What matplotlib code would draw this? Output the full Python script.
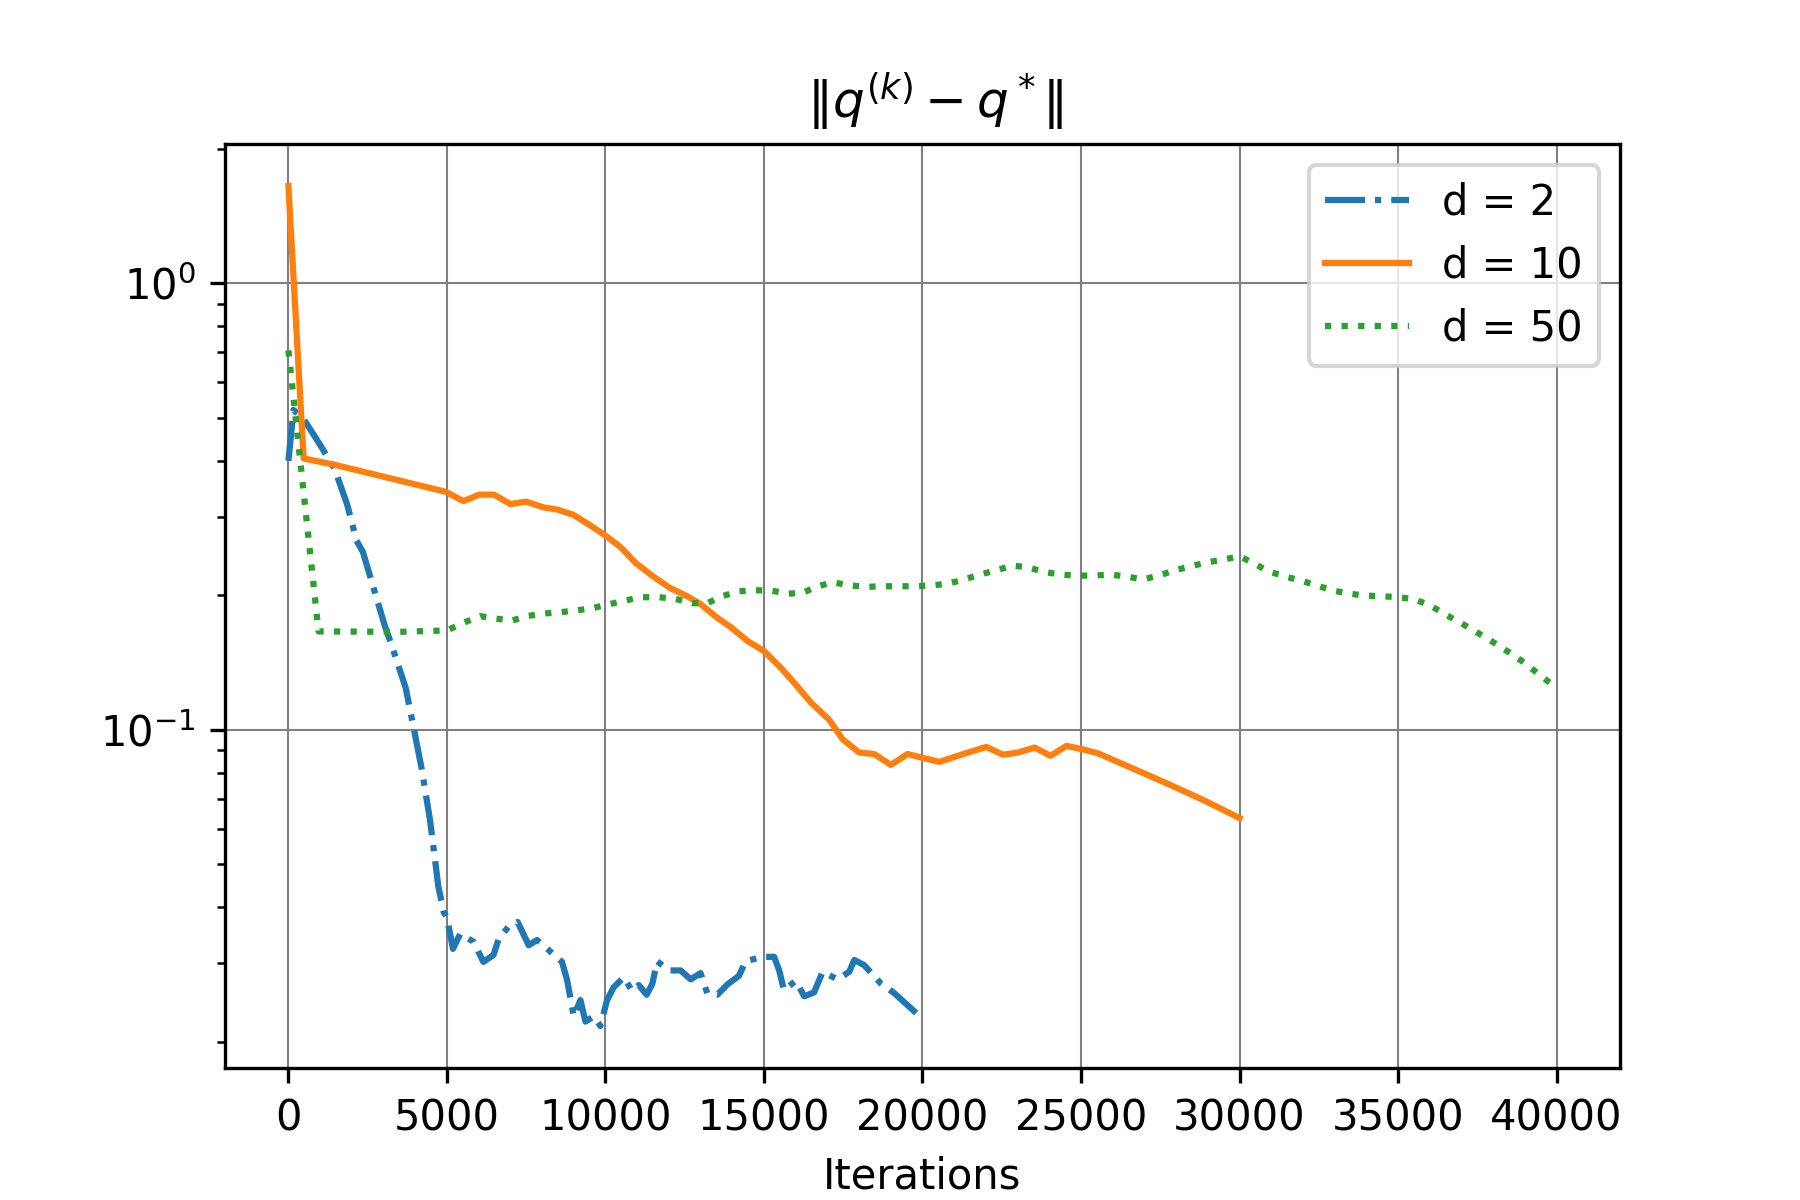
import matplotlib
matplotlib.use('Agg')
import matplotlib.pyplot as plt
import numpy as np

#  --------------------------  DATA  ---------------------------------------------------
# d = 2
it_d2 = [0, 160, 450, 950, 1450, 1850, 2150, 2350, 2800, 3050, 3250, 3500, 3700, 3950,
         4200, 4470, 4730, 4900, 5000, 5190, 5420, 5840, 6150, 6470, 6630, 6940, 7230,
         7580, 7840, 8210, 8630, 8790, 9000, 9210, 9370, 9630, 9840, 10050, 10260, 10580,
         10840, 11050, 11300, 11480, 11630, 12000, 12370, 12690, 13000, 13210, 13530,
         13850, 14210, 14420, 14950, 15320, 15480, 15630, 16000, 16270, 16580, 16850,
         17320, 17690, 17850, 18160, 18690, 19110, 19800]
err_d2 = [0.40, 0.52, 0.50, 0.44, 0.385, 0.32, 0.265, 0.25, 0.195, 0.17, 0.155, 0.137,
          0.124, 0.101, 0.082, 0.0625, 0.0445, 0.039, 0.038, 0.0323, 0.0349, 0.0335,
          0.0302, 0.0313, 0.034, 0.0362, 0.0371, 0.0329, 0.0338, 0.0321, 0.0302, 0.0275,
          0.0228, 0.0248, 0.0222, 0.0228, 0.0217, 0.0248, 0.0265, 0.0279, 0.026, 0.0268,
          0.0255, 0.027, 0.0303, 0.0289, 0.0289, 0.0276, 0.0285, 0.0257, 0.0255, 0.0269,
          0.0281, 0.0303, 0.031, 0.031, 0.0289, 0.0261, 0.0274, 0.0253, 0.0258, 0.0287,
          0.0276, 0.0287, 0.0305, 0.0297, 0.027, 0.0257, 0.0232]

# d = 10
it_d10 = [0, 480, 1450, 4960, 5520, 6020, 6480, 7000, 7500, 8060, 8490, 8980, 9480, 9970,
          10460, 10960, 11520, 12040, 12580, 13000, 13530, 13950, 14480, 15000, 15530,
          15950, 16480, 17060, 17480, 18000, 18480, 19000, 19530, 20060, 20530, 21220,
          22010, 22540, 23010, 23540, 24040, 24540, 25070, 25540, 26800, 27870, 28910, 30000]
err_d10 = [1.65, 0.405, 0.392, 0.341, 0.325, 0.336, 0.336, 0.320, 0.324, 0.3145, 0.311,
           0.303, 0.288, 0.273, 0.257, 0.236, 0.220, 0.2076, 0.199, 0.191, 0.178, 0.1697,
           0.158, 0.150, 0.1376, 0.1274, 0.115, 0.1052, 0.0952, 0.0889, 0.0882, 0.0834,
           0.0882, 0.0863, 0.0847, 0.0879, 0.0915, 0.0879, 0.0889, 0.0912, 0.0874, 0.0920,
           0.0903, 0.0885, 0.0809, 0.0749, 0.0693, 0.0634]

# d = 50
it_d50 = [0, 950, 3500, 5000, 5520, 6050, 6520, 7050, 7520, 8050, 8580, 9100, 9630, 10160,
          11100, 11690, 12210, 12740, 13210, 13690, 14160, 14690, 15220, 15740, 16220,
          16690, 17170, 17690, 18220, 18740, 19270, 19800, 20320, 20800, 21320, 21800,
          22330, 22820, 23330, 23830, 24360, 24860, 25380, 25910, 26440, 26940, 27460,
          27940, 28450, 28960, 29490, 30000, 30440, 30910, 31420, 31910, 32420, 32910,
          33420, 33950, 34480, 35000, 35500, 36000, 36500, 37000, 37500, 38000, 38500,
          39000, 39500, 40000]
err_d50 = [0.707, 0.166, 0.1656, 0.1668, 0.1735, 0.1796, 0.1774, 0.1755, 0.1796, 0.182,
           0.1833, 0.185, 0.1874, 0.1913, 0.198, 0.198, 0.1963, 0.192, 0.192, 0.199, 0.204,
           0.2052, 0.205, 0.2016, 0.2025, 0.2095, 0.2138, 0.2105, 0.2088, 0.2095, 0.2095,
           0.2095, 0.2105, 0.2123, 0.217, 0.2225, 0.2274, 0.233, 0.231, 0.2255, 0.2225,
           0.2213, 0.2213, 0.2225, 0.2203, 0.217, 0.2213, 0.2274, 0.232, 0.237, 0.2403,
           0.2446, 0.236, 0.2263, 0.2205, 0.216, 0.2105, 0.2052, 0.2018, 0.1997, 0.199,
           0.198, 0.196, 0.19, 0.181, 0.173, 0.165, 0.157, 0.149, 0.141, 0.132, 0.124]

#  --------------------------  PLOT  ----------------------------
fig, ax = plt.subplots(figsize=(6, 4), dpi=300)
ax.plot(it_d2, err_d2, '-.', label='d = 2')
ax.plot(it_d10, err_d10, '-', label='d = 10')
ax.plot(it_d50, err_d50, ':', label='d = 50')
ax.set_yscale('log')
ax.grid(True, color='gray', linewidth=0.5)
ax.set_xlabel('Iterations')
ax.set_title(r'$\|q^{(k)} - q^*\|$', x=0.509)
ax.legend(loc='upper right')
fig.savefig('out.png', dpi=300)
